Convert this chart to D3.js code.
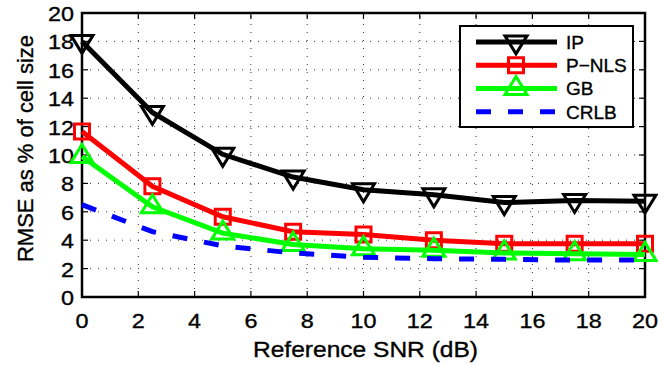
<html lang="en">
<head>
  <meta charset="UTF-8"/>
  <title>RMSE vs reference SNR</title>
  <script src="https://d3js.org/d3.v7.min.js"></script>
  <style>
    body { margin: 0; background: #fff; }
    svg { display: block; }
    text { font-family: 'Liberation Sans', Arial, sans-serif; fill: #000; stroke: #000; stroke-width: 0.35px; }
  </style>
</head>
<body>
<svg width="658" height="365"></svg>
<script>
  // data
  const snr = [0, 2.5, 5, 7.5, 10, 12.5, 15, 17.5, 20];
  const ip = [18.0, 13.0, 10.05, 8.45, 7.55, 7.2, 6.65, 6.8, 6.75];
  const pnls = [11.65, 7.8, 5.65, 4.6, 4.4, 4.0, 3.75, 3.75, 3.75];
  const gb = [9.9, 6.35, 4.5, 3.7, 3.4, 3.3, 3.1, 3.05, 3.0];
  const crlb = [6.5, 4.6, 3.6, 3.1, 2.8, 2.7, 2.65, 2.6, 2.6];
  const xTicks = [0, 2, 4, 6, 8, 10, 12, 14, 16, 18, 20];
  const yTicks = [0, 2, 4, 6, 8, 10, 12, 14, 16, 18, 20];
  const seriesNames = ['IP', 'P\u2212NLS', 'GB', 'CRLB'];

  const pLeft = 82, pRight = 645, pTop = 13, pBottom = 297;

  const svg = d3.select('svg');
  const x = d3.scaleLinear().domain([0, 20]).range([pLeft, pRight]);
  const y = d3.scaleLinear().domain([0, 20]).range([pBottom, pTop]);

  // dotted grid
  const grid = svg.append('g').attr('stroke', '#333').attr('stroke-width', 1)
    .attr('stroke-dasharray', '1,7');
  grid.selectAll('.gx').data(xTicks.slice(1, -1)).enter().append('line')
    .attr('x1', d => x(d)).attr('x2', d => x(d)).attr('y1', pBottom).attr('y2', pTop);
  grid.selectAll('.gy').data(yTicks.slice(1, -1)).enter().append('line')
    .attr('y1', d => y(d)).attr('y2', d => y(d)).attr('x1', pLeft).attr('x2', pRight);

  // inward ticks on all four sides
  const tl = 6;
  const ticks = svg.append('g').attr('stroke', '#000').attr('stroke-width', 1.2);
  xTicks.forEach(d => {
    ticks.append('line').attr('x1', x(d)).attr('x2', x(d)).attr('y1', pBottom).attr('y2', pBottom - tl);
    ticks.append('line').attr('x1', x(d)).attr('x2', x(d)).attr('y1', pTop).attr('y2', pTop + tl);
  });
  yTicks.forEach(d => {
    ticks.append('line').attr('y1', y(d)).attr('y2', y(d)).attr('x1', pLeft).attr('x2', pLeft + tl);
    ticks.append('line').attr('y1', y(d)).attr('y2', y(d)).attr('x1', pRight).attr('x2', pRight - tl);
  });

  // box
  svg.append('rect').attr('x', pLeft).attr('y', pTop)
    .attr('width', pRight - pLeft).attr('height', pBottom - pTop)
    .attr('fill', 'none').attr('stroke', '#000').attr('stroke-width', 2.5);

  // tick labels (the original digits are drawn a little wide)
  const tw = d => String(d).length * 13;
  svg.selectAll('.xl').data(xTicks).enter().append('text')
    .attr('font-size', 21)
    .attr('x', d => x(d) - tw(d) / 2).attr('y', 328)
    .attr('textLength', tw).attr('lengthAdjust', 'spacingAndGlyphs')
    .text(d => d);
  svg.selectAll('.yl').data(yTicks).enter().append('text')
    .attr('font-size', 21)
    .attr('x', d => 74 - tw(d)).attr('y', d => y(d) + 8)
    .attr('textLength', tw).attr('lengthAdjust', 'spacingAndGlyphs')
    .text(d => d);

  // axis titles
  svg.append('text')
    .attr('font-size', 22)
    .attr('x', 253).attr('y', 357)
    .attr('textLength', 225).attr('lengthAdjust', 'spacingAndGlyphs')
    .text('Reference SNR (dB)');
  svg.append('text')
    .attr('font-size', 22)
    .attr('transform', 'translate(33,262) rotate(-90)')
    .attr('textLength', 227).attr('lengthAdjust', 'spacingAndGlyphs')
    .text('RMSE as % of cell size');

  // markers
  function marker(g, type, color) {
    const w = 11, h = 18;
    let p;
    if (type === 'down') p = `M${-w},${-h / 3}L${w},${-h / 3}L0,${2 * h / 3}Z`;
    else if (type === 'up') p = `M${-w},${h / 3}L${w},${h / 3}L0,${-2 * h / 3}Z`;
    else p = 'M-7.5,-7.5L7.5,-7.5L7.5,7.5L-7.5,7.5Z';
    g.append('path').attr('d', p).attr('fill', 'none')
      .attr('stroke', color).attr('stroke-width', 3).attr('stroke-linejoin', 'miter');
  }

  const series = [
    { vals: ip, color: '#000000', m: 'down', dash: null },
    { vals: pnls, color: '#ff0000', m: 'square', dash: null },
    { vals: gb, color: '#00ff00', m: 'up', dash: null },
    { vals: crlb, color: '#0000ff', m: null, dash: '15,17' }
  ];

  const line = d3.line().x((d, i) => x(snr[i])).y(d => y(d));
  series.forEach(s => {
    svg.append('path').datum(s.vals).attr('d', line)
      .attr('fill', 'none').attr('stroke', s.color).attr('stroke-width', 5)
      .attr('stroke-dasharray', s.dash);
    if (s.m) {
      s.vals.forEach((v, i) => {
        const g = svg.append('g').attr('transform', `translate(${x(snr[i])},${y(v)})`);
        marker(g, s.m, s.color);
      });
    }
  });

  // legend
  const leg = svg.append('g');
  leg.append('rect').attr('x', 460).attr('y', 26).attr('width', 173).attr('height', 101)
    .attr('fill', '#fff').attr('stroke', '#000').attr('stroke-width', 2);
  series.forEach((s, i) => {
    const ly = 41.9 + i * 23.3;
    leg.append('line').attr('x1', 476).attr('x2', 557).attr('y1', ly).attr('y2', ly)
      .attr('stroke', s.color).attr('stroke-width', 5).attr('stroke-dasharray', s.dash);
    if (s.m) marker(leg.append('g').attr('transform', `translate(516,${ly})`), s.m, s.color);
    leg.append('text').attr('font-size', 19)
      .attr('x', 566).attr('y', ly + 6.8)
      .text(seriesNames[i]);
  });
</script>
</body>
</html>
